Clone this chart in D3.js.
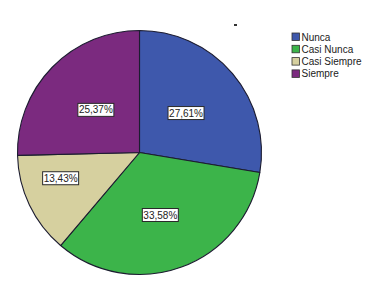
<!DOCTYPE html>
<html>
<head>
<meta charset="utf-8">
<script src="https://cdn.jsdelivr.net/npm/d3@7"></script>
<style>
  html, body { margin: 0; padding: 0; background: #fff; }
  svg { display: block; }
</style>
</head>
<body>
<svg id="chart" width="374" height="283"></svg>
<script>
const categories = ["Nunca", "Casi Nunca", "Casi Siempre", "Siempre"];
const values = [27.61, 33.58, 13.43, 25.37];
const labels = ["27,61%", "33,58%", "13,43%", "25,37%"];

const colors = ["#3e58ac", "#3cb44a", "#d6d09f", "#7b2a7f"];
// label placement tweaks (radius fraction, angle shift in radians)
const labelRadius = [0.5, 0.54, 0.68, 0.5];
const labelShift = [0, 0.03, 0.13, 0];

const svg = d3.select("#chart");
const cx = 139.5, cy = 152.5, R = 122;

const pie = d3.pie().sort(null).value(d => d)
  .startAngle(0).endAngle(2 * Math.PI);
const arcs = pie(values);
const arc = d3.arc().innerRadius(0).outerRadius(R);

const g = svg.append("g").attr("transform", `translate(${cx},${cy})`);

g.selectAll("path.slice").data(arcs).enter().append("path")
  .attr("class", "slice")
  .attr("d", arc)
  .attr("fill", (d, i) => colors[i])
  .attr("stroke", "#1c1c30")
  .attr("stroke-width", 1.1)
  .attr("stroke-linejoin", "round");

const lab = g.selectAll("g.lab").data(arcs).enter().append("g")
  .attr("class", "lab")
  .attr("transform", (d, i) => {
    const a = (d.startAngle + d.endAngle) / 2 + labelShift[i];
    const r = R * labelRadius[i];
    return `translate(${Math.sin(a) * r},${-Math.cos(a) * r})`;
  });

lab.append("rect")
  .attr("x", -18).attr("y", -6.5)
  .attr("width", 36).attr("height", 13)
  .attr("fill", "#ffffff")
  .attr("stroke", "#2a2a2a")
  .attr("stroke-width", 1);

lab.append("text")
  .attr("text-anchor", "middle")
  .attr("dy", "0.35em")
  .attr("font-family", "Liberation Sans, Arial, sans-serif")
  .attr("font-size", 10)
  .attr("fill", "#222")
  .text((d, i) => labels[i]);

// legend
const leg = svg.append("g").attr("transform", "translate(292,33)");
const items = leg.selectAll("g").data(categories).enter().append("g")
  .attr("transform", (d, i) => `translate(0,${i * 12.3})`);
items.append("rect")
  .attr("width", 7.5).attr("height", 7.5)
  .attr("fill", (d, i) => colors[i])
  .attr("stroke", "#333").attr("stroke-width", 0.8);
items.append("text")
  .attr("x", 9.5).attr("y", 7.5)
  .attr("font-family", "Liberation Sans, Arial, sans-serif")
  .attr("font-size", 10)
  .attr("fill", "#222")
  .text(d => d);

// small stray mark at top
svg.append("rect").attr("x", 234).attr("y", 24).attr("width", 3).attr("height", 2).attr("fill", "#333");
</script>
</body>
</html>
